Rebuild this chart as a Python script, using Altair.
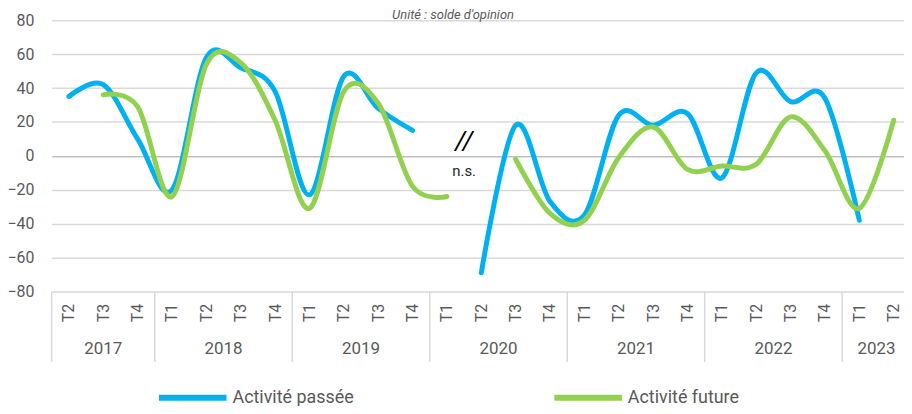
import json
import altair as alt
import pandas as pd

# ---------------- data ----------------
years = ["2017", "2018", "2019", "2020", "2021", "2022", "2023"]
quarters_per_year = [
    ["T2", "T3", "T4"],
    ["T1", "T2", "T3", "T4"],
    ["T1", "T2", "T3", "T4"],
    ["T1", "T2", "T3", "T4"],
    ["T1", "T2", "T3", "T4"],
    ["T1", "T2", "T3", "T4"],
    ["T1", "T2"],
]
series_names = ["Activité passée", "Activité future"]
series_colors = ["#00B0F0", "#92D050"]

passee = [35, 42, 10, -20, 58, 52, 38, -23, 47, 28, 15, None,
          -69, 18, -27, -35, 24, 18, 25, -13, 49, 32, 34, -38, None]
future = [None, 36, 29, -24, 54, 55, 21, -31, 38, 31, -18, -24,
          None, -2, -34, -38, -1, 17, -8, -6, -5, 23, 3, -31, 21]

y_ticks = [-80, -60, -40, -20, 0, 20, 40, 60, 80]
title_text = "Unité : solde d'opinion"
break_mark = "//"
break_note = "n.s."

# ---------------- tables ----------------
quarter_labels = [q for qs in quarters_per_year for q in qs]
n = len(quarter_labels)

rows = []
for name, vals in zip(series_names, [passee, future]):
    seg = 0
    for i, v in enumerate(vals):
        if v is None:
            seg += 1
            continue
        rows.append({"idx": i, "value": v, "series": name, "seg": f"{name}-{seg}"})
df = pd.DataFrame(rows)

year_rows, bounds = [], []
start = 0
for y, qs in zip(years, quarters_per_year):
    year_rows.append({"year": y, "mid": start + (len(qs) - 1) / 2})
    bounds.append(start - 0.5)
    start += len(qs)
df_years = pd.DataFrame(year_rows)
df_bounds = pd.DataFrame({"b": bounds})

gap_idx = 11.5  # between 2020 T1 and 2020 T2
df_mark = pd.DataFrame([{"idx": gap_idx, "value": 9, "txt": break_mark}])
df_note = pd.DataFrame([{"idx": gap_idx, "value": -9, "txt": break_note}])

FONT = "Roboto"
GREY = "#595959"

x_scale = alt.Scale(domain=[-0.5, 24.3], nice=False, zero=False)
y_scale = alt.Scale(domain=[-80, 80], nice=False)

x_axis = alt.Axis(
    values=list(range(n)),
    labelExpr=f"{json.dumps(quarter_labels)}[datum.value]",
    labelAngle=270, labelAlign="right", labelBaseline="middle",
    labelPadding=12, ticks=False, domain=False, grid=False, title=None,
    labelFont=FONT, labelFontSize=16, labelColor=GREY,
    labelOverlap=False, labelFlush=False, labelBound=False,
)
y_axis = alt.Axis(
    values=y_ticks, grid=True,
    gridColor={"condition": {"test": "datum.value === 0", "value": "#bfbfbf"}, "value": "#d9d9d9"},
    gridWidth=1.5, domain=False, ticks=False, labelPadding=18,
    labelFont=FONT, labelFontSize=16, labelColor=GREY, title=None,
    labelOverlap=False, labelFlush=False, labelBound=False,
)

X = lambda f: alt.X(f, scale=x_scale, axis=x_axis)
Y = lambda f: alt.Y(f, scale=y_scale, axis=y_axis)

lines = alt.Chart(df).mark_line(
    interpolate="cardinal", strokeWidth=5, strokeCap="round", strokeJoin="round"
).encode(
    x=X("idx:Q"),
    y=Y("value:Q"),
    color=alt.Color(
        "series:N",
        scale=alt.Scale(domain=series_names, range=series_colors),
        sort=series_names,
        legend=alt.Legend(
            orient="none", legendX=105, legendY=343, direction="horizontal",
            title=None, symbolType="stroke", symbolSize=4624, symbolStrokeWidth=6,
            labelFont=FONT, labelFontSize=18, labelColor=GREY,
            columnPadding=190, labelOffset=3,
        ),
    ),
    detail="seg:N",
)

seps = alt.Chart(df_bounds).mark_rule(color="#d9d9d9", strokeWidth=1.5).encode(
    x=X("b:Q"),
    y=alt.value(273),
    y2=alt.value(344),
)

year_text = alt.Chart(df_years).mark_text(
    font=FONT, fontSize=17, color=GREY, baseline="middle"
).encode(
    x=X("mid:Q"),
    y=alt.value(331),
    text="year:N",
)

marks = alt.Chart(df_mark).mark_text(
    font=FONT, fontSize=26, fontStyle="italic", color="#000000", baseline="middle"
).encode(
    x=X("idx:Q"),
    y=Y("value:Q"),
    text="txt:N",
)
notes = alt.Chart(df_note).mark_text(
    font=FONT, fontSize=15, color="#262626", baseline="middle"
).encode(
    x=X("idx:Q"),
    y=Y("value:Q"),
    text="txt:N",
)

title = alt.Chart(pd.DataFrame({"t": [title_text]})).mark_text(
    font=FONT, fontSize=13, fontStyle="italic", color=GREY, baseline="alphabetic"
).encode(
    x=alt.value(404),
    y=alt.value(-1.5),
    text="t:N",
)

chart = alt.layer(lines, seps, year_text, marks, notes, title).properties(
    width=858,
    height=273,
    autosize=alt.AutoSizeParams(type="none"),
    padding={"left": 44, "top": 11, "right": 0, "bottom": 114},
).configure_view(stroke=None).configure_axis(labelOverlap=False)

chart.save("out.html", embed_options={"renderer": "svg", "actions": False})
